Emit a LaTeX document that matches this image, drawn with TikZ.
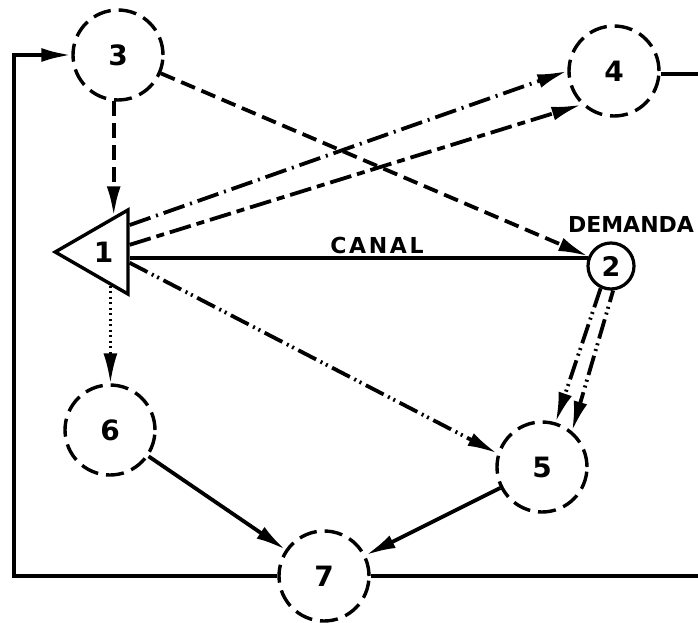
\documentclass[tikz,border=0pt]{standalone}
\usepackage{fontspec}
\setmainfont{DejaVu Sans}
\newfontfamily\spaced[LetterSpace=12]{DejaVu Sans}
\usetikzlibrary{arrows.meta,shapes.geometric,calc}
\begin{document}
\begin{tikzpicture}[x=1pt,y=-1pt,
  ln/.style={line width=3.8pt},
  tip/.style={-{Latex[length=30pt,width=14pt]}},
  circ/.style={circle, draw, line width=3.4pt, dash pattern=on 18pt off 8pt,
    minimum size=90pt, inner sep=0pt, font=\fontsize{28}{28}\selectfont\bfseries},
  dem/.style={circle, draw, line width=3.2pt, minimum size=46pt, inner sep=0pt,
    font=\fontsize{27}{27}\selectfont\bfseries},
  tri/.style={draw, regular polygon, regular polygon sides=3, shape border rotate=90,
    minimum size=97pt, inner sep=0pt, line width=3.4pt,
    font=\fontsize{28}{28}\selectfont\bfseries},
  dsh/.style={ln, dash pattern=on 15pt off 7pt},
  dshdot/.style={ln, dash pattern=on 22pt off 6pt on 2pt off 6pt},
  longshort/.style={ln, dash pattern=on 22pt off 6pt on 8pt off 6pt},
  dshdotdot/.style={ln, dash pattern=on 20pt off 5pt on 2pt off 4pt on 2pt off 5pt},
  dots/.style={line width=2.8pt, dash pattern=on 2pt off 3.5pt},
  lbl/.style={inner sep=0pt, font=\fontsize{22}{22}\selectfont\bfseries}
]
\useasboundingbox (0,0) rectangle (698,623);

\node[circ] (n3) at (118,55) {3};
\node[circ] (n4) at (614,71) {4};
\node[dem]  (n2) at (611,266) {2};
\node[circ] (n6) at (110,430) {6};
\node[circ] (n5) at (542,467) {5};
\node[circ] (n7) at (324,576) {7};
\node[tri]  (n1) at (103.7,252) {1};

\node[lbl] (canal) at (377,245) {\spaced CANAL};
\node[inner sep=0pt, font=\fontsize{22}{22}\selectfont\bfseries] (demanda) at (631,224) {DEMANDA};

\coordinate (lp) at (14,0);
\coordinate (re) at (698,0);

% points on the triangle
\coordinate (ta) at ($(n1.corner 1)!0.795!(n1.corner 3)$);
\coordinate (tb) at ($(n1.corner 1)!0.753!(n1.corner 2)$);
\coordinate (b1) at ($(n1.corner 3)!0.2!(n1.corner 2)$);
\coordinate (b2) at ($(n1.corner 3)!0.42!(n1.corner 2)$);
\coordinate (b3) at ($(n1.corner 3)!0.57!(n1.corner 2)$);
\coordinate (b4) at ($(n1.corner 3)!0.62!(n1.corner 2)$);

% loop 7 -> 3
\draw[ln, tip] (n7.west) -- (n7.west -| lp) -- (n3.west -| lp) -- (n3.west);
% outgoing lines
\draw[ln] (n7.east) -- (n7.east -| re);
\draw[ln] (n4.-4) -- (n4.-4 -| re);

% 3 -> 1, 3 -> 2
\draw[dsh, tip] (ta |- n3.264) -- (ta);
\draw[dsh, tip] (n3) -- (n2);

% 1 -> 4
\draw[dshdot, tip] (b1) -- (n4.west);
\draw[longshort, tip] (b2) -- (n4.226);

% canal 1 - 2
\draw[ln] (b3) -- (b3 -| n2.160);

% 1 -> 5, 1 -> 6
\draw[dshdotdot, tip] (b4) -- (n5.163);
\draw[dots, tip] (tb) -- (tb |- n6.north);

% 2 -> 5
\draw[dshdotdot, tip] (n2.245) -- (n5.73);
\draw[dshdotdot, dash phase=8pt, tip] (n2.275) -- (n5.50);

% to 7
\draw[ln, tip] (n6) -- (n7);
\draw[ln, tip] (n5) -- (n7);
\end{tikzpicture}
\end{document}
